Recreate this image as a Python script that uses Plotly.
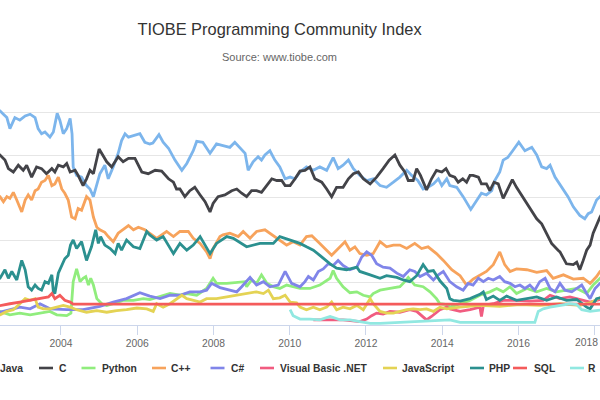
import plotly.graph_objects as go

# ---- data: (decimal year, share %) ----
series_names = ["Java", "C", "Python", "C++", "C#", "Visual Basic .NET",
                "JavaScript", "PHP", "SQL", "R"]
series_colors = ["#7cb5ec", "#434348", "#90ed7d", "#f7a35c", "#8085e9",
                 "#f15c80", "#e4d354", "#2b908f", "#f45b5b", "#91e8e1"]

java = [(2002.30, 25.4), (2002.40, 25.2), (2002.49, 24.8), (2002.58, 24.4), (2002.66, 23.1), (2002.79, 24.4),
        (2002.92, 24.1), (2003.06, 24.6), (2003.19, 24.8), (2003.32, 24.4), (2003.40, 23.1), (2003.49, 22.5),
        (2003.58, 22.7), (2003.71, 22.1), (2003.80, 22.7), (2003.90, 24.9), (2003.97, 24.1), (2004.06, 22.5),
        (2004.15, 23.1), (2004.24, 24.3), (2004.29, 22.5), (2004.32, 18.6), (2004.41, 17.6), (2004.54, 17.4),
        (2004.67, 16.4), (2004.76, 16.0), (2004.85, 15.1), (2004.94, 16.4), (2005.02, 17.8), (2005.15, 18.8),
        (2005.24, 17.2), (2005.37, 18.6), (2005.50, 20.2), (2005.59, 21.7), (2005.68, 22.5), (2005.77, 22.1),
        (2005.90, 22.3), (2006.07, 22.5), (2006.20, 21.5), (2006.33, 21.3), (2006.41, 21.4), (2006.57, 22.4),
        (2006.68, 21.5), (2006.82, 20.8), (2006.99, 19.4), (2007.17, 18.2), (2007.30, 19.0), (2007.47, 20.5),
        (2007.56, 21.6), (2007.72, 21.5), (2007.91, 20.2), (2008.08, 21.3), (2008.25, 21.1), (2008.43, 20.9),
        (2008.56, 21.5), (2008.69, 20.9), (2008.83, 20.2), (2008.91, 18.2), (2009.04, 19.2), (2009.17, 19.8),
        (2009.26, 19.4), (2009.35, 20.0), (2009.48, 20.5), (2009.61, 19.4), (2009.74, 18.6), (2009.88, 17.2),
        (2010.01, 17.4), (2010.14, 17.2), (2010.27, 18.0), (2010.44, 18.6), (2010.62, 18.2), (2010.79, 18.6),
        (2010.97, 18.2), (2011.14, 19.7), (2011.27, 18.4), (2011.40, 18.8), (2011.54, 19.4), (2011.67, 18.4),
        (2011.84, 17.6), (2012.02, 17.0), (2012.19, 17.2), (2012.37, 16.4), (2012.54, 16.2), (2012.72, 16.8),
        (2012.89, 17.4), (2013.07, 18.2), (2013.20, 17.6), (2013.36, 17.0), (2013.50, 16.0), (2013.63, 16.2),
        (2013.77, 16.6), (2013.90, 17.2), (2013.99, 16.4), (2014.12, 17.2), (2014.20, 16.4), (2014.38, 16.2),
        (2014.55, 15.1), (2014.75, 13.6), (2014.90, 14.7), (2015.03, 15.5), (2015.16, 15.3), (2015.30, 15.8),
        (2015.38, 17.0), (2015.51, 18.0), (2015.60, 19.4), (2015.72, 19.7), (2015.85, 20.5), (2016.01, 21.5),
        (2016.17, 20.5), (2016.35, 20.9), (2016.48, 20.0), (2016.61, 18.6), (2016.74, 18.4), (2016.83, 18.8),
        (2016.96, 17.4), (2017.13, 16.2), (2017.30, 15.1), (2017.44, 13.9), (2017.61, 12.9), (2017.74, 12.5),
        (2017.83, 13.1), (2017.92, 13.3), (2018.05, 14.7), (2018.14, 15.1), (2018.25, 15.6)]

c_lang = [(2002.30, 20.3), (2002.40, 20.0), (2002.53, 19.4), (2002.62, 18.4), (2002.75, 18.0), (2002.88, 18.8),
          (2003.01, 18.2), (2003.10, 18.8), (2003.23, 17.4), (2003.36, 18.6), (2003.49, 18.4), (2003.62, 17.8),
          (2003.76, 18.4), (2003.84, 18.0), (2003.93, 18.8), (2004.06, 18.6), (2004.15, 19.0), (2004.24, 18.0),
          (2004.37, 18.2), (2004.45, 17.6), (2004.58, 16.4), (2004.67, 17.2), (2004.76, 18.2), (2004.85, 17.8),
          (2005.00, 20.7), (2005.11, 19.8), (2005.20, 19.2), (2005.33, 18.6), (2005.50, 19.8), (2005.63, 19.2),
          (2005.77, 19.6), (2005.94, 19.6), (2006.12, 18.0), (2006.29, 17.8), (2006.47, 18.2), (2006.64, 18.1),
          (2006.82, 17.2), (2006.95, 16.8), (2007.03, 16.0), (2007.12, 16.0), (2007.25, 15.1), (2007.38, 15.8),
          (2007.51, 16.2), (2007.65, 15.3), (2007.78, 14.5), (2007.91, 13.3), (2007.99, 14.3), (2008.12, 15.1),
          (2008.30, 15.3), (2008.48, 15.8), (2008.61, 16.0), (2008.74, 15.5), (2008.87, 15.1), (2009.00, 15.8),
          (2009.13, 15.8), (2009.26, 15.6), (2009.40, 16.4), (2009.53, 17.2), (2009.66, 17.0), (2009.79, 17.0),
          (2009.88, 16.4), (2010.01, 16.4), (2010.14, 17.2), (2010.27, 18.1), (2010.40, 18.2), (2010.53, 18.6),
          (2010.66, 17.2), (2010.84, 16.8), (2010.97, 16.0), (2011.10, 15.1), (2011.23, 16.2), (2011.40, 16.2),
          (2011.54, 17.2), (2011.67, 17.8), (2011.80, 18.0), (2011.93, 17.2), (2012.11, 16.6), (2012.28, 17.4),
          (2012.45, 18.4), (2012.61, 19.4), (2012.76, 20.0), (2012.89, 18.8), (2013.02, 18.0), (2013.11, 17.0),
          (2013.24, 17.0), (2013.33, 18.4), (2013.43, 17.6), (2013.59, 15.9), (2013.72, 17.2), (2013.85, 18.2),
          (2013.99, 18.0), (2014.10, 18.4), (2014.20, 17.6), (2014.33, 17.4), (2014.42, 16.8), (2014.54, 17.2),
          (2014.64, 16.8), (2014.73, 17.6), (2014.81, 17.6), (2014.95, 17.4), (2015.03, 16.6), (2015.16, 16.6),
          (2015.25, 15.8), (2015.36, 16.8), (2015.47, 16.6), (2015.60, 14.9), (2015.70, 15.8), (2015.84, 17.1),
          (2015.95, 16.2), (2016.08, 15.3), (2016.22, 14.3), (2016.35, 13.5), (2016.48, 12.5), (2016.61, 11.9),
          (2016.74, 10.8), (2016.87, 9.6), (2017.04, 8.8), (2017.09, 8.6), (2017.26, 7.2), (2017.44, 7.1),
          (2017.53, 7.4), (2017.61, 6.5), (2017.70, 7.6), (2017.79, 8.8), (2017.88, 9.4), (2017.96, 10.8),
          (2018.14, 12.7), (2018.25, 13.6)]

python = [(2002.30, 1.5), (2002.40, 1.6), (2002.66, 1.2), (2002.92, 1.4), (2003.19, 1.2), (2003.45, 1.4),
          (2003.71, 1.6), (2003.89, 1.2), (2004.15, 1.1), (2004.26, 1.4), (2004.32, 5.1), (2004.41, 6.6),
          (2004.50, 5.1), (2004.58, 5.5), (2004.65, 5.7), (2004.72, 4.7), (2004.78, 5.5), (2004.85, 4.7),
          (2004.94, 3.1), (2005.07, 2.5), (2005.20, 2.3), (2005.37, 2.5), (2005.63, 2.9), (2005.90, 2.9),
          (2006.16, 3.1), (2006.33, 3.0), (2006.68, 3.5), (2006.86, 3.7), (2007.12, 3.5), (2007.30, 3.7),
          (2007.56, 3.5), (2007.82, 4.3), (2007.99, 5.5), (2008.08, 4.9), (2008.35, 4.9), (2008.61, 5.0),
          (2008.83, 5.1), (2008.87, 4.5), (2009.00, 5.3), (2009.13, 4.9), (2009.26, 5.9), (2009.40, 4.9),
          (2009.57, 4.5), (2009.74, 4.3), (2009.92, 4.7), (2010.09, 4.5), (2010.27, 4.3), (2010.53, 4.3),
          (2010.79, 4.7), (2011.06, 5.5), (2011.14, 6.4), (2011.23, 5.5), (2011.40, 4.5), (2011.58, 3.8),
          (2011.76, 3.9), (2011.93, 3.5), (2012.11, 3.3), (2012.19, 3.7), (2012.37, 4.1), (2012.63, 4.3),
          (2012.89, 4.5), (2013.02, 5.1), (2013.11, 5.6), (2013.28, 4.7), (2013.50, 4.5), (2013.68, 3.9),
          (2013.85, 3.1), (2013.94, 2.5), (2014.12, 2.4), (2014.20, 2.1), (2014.47, 2.5), (2014.73, 2.9),
          (2014.99, 3.5), (2015.25, 3.9), (2015.43, 4.3), (2015.60, 3.9), (2015.78, 4.5), (2015.95, 3.7),
          (2016.22, 4.3), (2016.48, 3.9), (2016.74, 4.3), (2017.00, 3.9), (2017.26, 4.1), (2017.53, 4.3),
          (2017.79, 3.7), (2017.96, 4.7), (2018.14, 5.5), (2018.25, 5.8)]

cpp = [(2002.30, 15.3), (2002.40, 15.1), (2002.49, 14.5), (2002.58, 15.1), (2002.66, 14.9), (2002.75, 15.6),
       (2002.84, 14.7), (2002.97, 13.3), (2003.06, 14.7), (2003.14, 15.3), (2003.23, 14.7), (2003.32, 15.8),
       (2003.40, 16.0), (2003.49, 16.8), (2003.58, 17.0), (2003.67, 17.6), (2003.76, 16.4), (2003.84, 16.6),
       (2003.93, 17.4), (2004.02, 16.0), (2004.10, 15.5), (2004.19, 14.7), (2004.28, 12.7), (2004.37, 12.5),
       (2004.45, 13.7), (2004.54, 13.5), (2004.67, 15.1), (2004.76, 14.7), (2004.85, 12.7), (2004.94, 11.5),
       (2005.02, 11.2), (2005.15, 10.9), (2005.24, 10.4), (2005.37, 9.8), (2005.50, 10.8), (2005.63, 11.2),
       (2005.77, 11.7), (2005.90, 11.2), (2006.03, 11.5), (2006.20, 11.2), (2006.33, 10.8), (2006.51, 10.2),
       (2006.77, 11.0), (2006.95, 10.4), (2007.12, 11.0), (2007.34, 11.0), (2007.47, 10.2), (2007.65, 9.6),
       (2007.82, 8.6), (2007.91, 7.8), (2007.99, 9.0), (2008.17, 10.4), (2008.25, 10.6), (2008.43, 10.8),
       (2008.65, 10.4), (2008.78, 11.0), (2008.96, 10.2), (2009.13, 11.0), (2009.35, 11.2), (2009.53, 10.6),
       (2009.74, 10.0), (2009.92, 9.4), (2010.09, 9.8), (2010.27, 9.4), (2010.44, 10.4), (2010.58, 10.5),
       (2010.79, 9.6), (2011.10, 8.2), (2011.23, 8.8), (2011.45, 9.8), (2011.58, 8.8), (2011.71, 9.2),
       (2011.84, 8.4), (2012.02, 8.2), (2012.19, 8.4), (2012.37, 9.8), (2012.54, 9.2), (2012.72, 9.4),
       (2012.89, 9.4), (2013.07, 9.0), (2013.28, 9.6), (2013.46, 9.0), (2013.63, 9.2), (2013.85, 8.4),
       (2014.03, 7.6), (2014.25, 6.5), (2014.47, 5.8), (2014.64, 4.7), (2014.81, 5.4), (2014.99, 5.9),
       (2015.16, 6.3), (2015.34, 7.1), (2015.51, 8.6), (2015.64, 7.1), (2015.78, 6.3), (2015.95, 6.6),
       (2016.22, 6.5), (2016.48, 6.2), (2016.74, 6.4), (2016.91, 5.5), (2017.18, 5.9), (2017.44, 5.4),
       (2017.70, 5.5), (2017.88, 4.9), (2018.05, 5.7), (2018.14, 6.3), (2018.25, 6.6)]

csharp = [(2002.30, 1.5), (2002.40, 1.5), (2002.92, 2.1), (2003.19, 1.9), (2003.45, 2.5), (2003.71, 1.9),
          (2004.15, 1.8), (2004.58, 1.8), (2005.02, 2.2), (2005.37, 2.7), (2005.72, 3.1), (2006.07, 3.8),
          (2006.33, 3.4), (2006.60, 3.1), (2006.86, 3.5), (2007.12, 3.5), (2007.38, 3.9), (2007.65, 3.9),
          (2007.82, 4.1), (2007.95, 4.9), (2008.17, 4.4), (2008.43, 4.1), (2008.61, 3.9), (2008.74, 4.5),
          (2008.96, 5.6), (2009.13, 4.7), (2009.31, 5.1), (2009.48, 4.5), (2009.70, 4.7), (2009.88, 6.3),
          (2010.05, 4.9), (2010.27, 4.5), (2010.40, 5.1), (2010.49, 5.7), (2010.62, 5.3), (2010.75, 6.3),
          (2010.88, 6.6), (2011.01, 7.2), (2011.14, 7.0), (2011.27, 7.6), (2011.40, 7.0), (2011.58, 6.5),
          (2011.76, 6.8), (2011.89, 8.0), (2012.02, 8.6), (2012.15, 8.2), (2012.28, 7.2), (2012.45, 6.8),
          (2012.63, 6.7), (2012.81, 6.1), (2012.98, 5.7), (2013.15, 6.5), (2013.28, 6.3), (2013.42, 5.7),
          (2013.59, 6.1), (2013.77, 5.3), (2013.90, 5.9), (2014.03, 6.3), (2014.20, 5.1), (2014.38, 4.5),
          (2014.55, 4.1), (2014.68, 4.9), (2014.81, 4.7), (2014.95, 5.5), (2015.08, 5.1), (2015.21, 5.5),
          (2015.34, 5.3), (2015.51, 5.7), (2015.64, 5.1), (2015.78, 4.9), (2015.91, 4.5), (2016.04, 4.7),
          (2016.17, 4.3), (2016.30, 4.7), (2016.43, 4.1), (2016.56, 5.1), (2016.70, 5.5), (2016.83, 4.3),
          (2016.96, 3.9), (2017.09, 4.9), (2017.22, 4.1), (2017.40, 3.9), (2017.53, 4.3), (2017.66, 4.7),
          (2017.79, 3.7), (2017.88, 3.1), (2018.01, 4.3), (2018.14, 4.9), (2018.25, 5.1)]

vbnet = [(2010.62, 0.6), (2010.97, 0.6), (2011.40, 0.6), (2011.84, 0.4), (2012.02, 0.7), (2012.15, 1.1),
         (2012.28, 1.4), (2012.45, 1.3), (2012.63, 1.6), (2012.89, 1.5), (2013.15, 1.8), (2013.33, 1.6),
         (2013.50, 1.0), (2013.59, 0.6), (2013.72, 1.0), (2013.94, 1.8), (2014.12, 2.1), (2014.20, 1.9),
         (2014.47, 1.6), (2014.73, 1.8), (2014.99, 2.1), (2015.03, 1.0), (2015.08, 2.3), (2015.34, 2.5),
         (2015.60, 2.9), (2015.95, 2.9), (2016.30, 2.8), (2016.65, 2.9), (2016.83, 3.5), (2017.09, 3.1),
         (2017.35, 3.3), (2017.61, 3.0), (2017.88, 2.7), (2018.14, 3.0), (2018.25, 3.1)]

javascript = [(2002.30, 1.1), (2002.40, 1.2), (2002.58, 1.6), (2002.75, 1.8), (2002.92, 2.5), (2003.06, 3.1),
              (2003.19, 2.9), (2003.32, 3.1), (2003.40, 2.1), (2003.54, 1.9), (2003.71, 1.9), (2003.89, 2.1),
              (2004.06, 2.3), (2004.24, 2.1), (2004.41, 1.8), (2004.67, 1.5), (2004.94, 1.7), (2005.20, 1.5),
              (2005.46, 1.7), (2005.72, 1.8), (2005.99, 2.0), (2006.25, 1.9), (2006.42, 1.6), (2006.51, 2.5),
              (2006.68, 2.1), (2006.86, 2.5), (2007.03, 3.1), (2007.17, 3.5), (2007.30, 3.1), (2007.47, 2.9),
              (2007.65, 2.7), (2007.82, 3.1), (2008.08, 3.1), (2008.35, 3.3), (2008.61, 3.5), (2008.87, 3.7),
              (2009.13, 3.9), (2009.31, 3.7), (2009.44, 4.1), (2009.57, 3.1), (2009.74, 3.2), (2009.88, 3.5),
              (2010.01, 2.7), (2010.18, 2.6), (2010.27, 2.1), (2010.44, 1.8), (2010.62, 2.1), (2010.79, 1.8),
              (2010.97, 2.1), (2011.10, 2.7), (2011.23, 1.8), (2011.40, 2.1), (2011.58, 1.9), (2011.76, 2.3),
              (2011.93, 1.8), (2012.11, 3.1), (2012.19, 2.5), (2012.37, 1.6), (2012.54, 1.4), (2012.72, 1.4),
              (2012.89, 1.6), (2013.07, 1.8), (2013.24, 1.9), (2013.42, 1.8), (2013.59, 1.9), (2013.77, 1.6),
              (2013.94, 2.1), (2014.12, 1.9), (2014.47, 2.1), (2014.99, 2.3), (2015.51, 2.2), (2016.04, 2.4),
              (2016.56, 2.3), (2017.09, 2.5), (2017.61, 2.3), (2017.88, 2.6), (2018.14, 3.2), (2018.25, 3.4)]

php = [(2002.30, 5.3), (2002.40, 5.5), (2002.53, 6.5), (2002.62, 5.5), (2002.71, 6.3), (2002.84, 5.3),
       (2002.97, 7.6), (2003.06, 6.5), (2003.14, 4.5), (2003.23, 4.1), (2003.32, 4.7), (2003.40, 4.3),
       (2003.49, 4.1), (2003.58, 5.1), (2003.67, 4.9), (2003.76, 5.9), (2003.80, 3.9), (2003.84, 3.7),
       (2003.93, 6.1), (2004.02, 7.0), (2004.10, 7.8), (2004.19, 8.2), (2004.25, 9.4), (2004.32, 10.0),
       (2004.41, 9.0), (2004.54, 9.8), (2004.67, 7.6), (2004.80, 9.2), (2004.91, 11.2), (2004.98, 9.6),
       (2005.04, 10.4), (2005.15, 9.4), (2005.29, 9.0), (2005.42, 8.4), (2005.50, 9.6), (2005.59, 8.8),
       (2005.72, 10.0), (2005.90, 9.2), (2006.07, 9.0), (2006.25, 11.0), (2006.33, 10.6), (2006.51, 10.0),
       (2006.68, 10.4), (2006.95, 8.4), (2007.12, 9.6), (2007.30, 8.8), (2007.47, 9.4), (2007.65, 10.4),
       (2007.91, 8.4), (2008.08, 9.6), (2008.35, 10.4), (2008.52, 10.2), (2008.87, 9.2), (2009.22, 9.6),
       (2009.57, 9.6), (2009.74, 10.4), (2010.01, 10.0), (2010.27, 9.6), (2010.44, 9.2), (2010.62, 8.8),
       (2010.79, 8.2), (2011.06, 7.2), (2011.23, 6.7), (2011.49, 6.5), (2011.76, 6.8), (2011.84, 6.3),
       (2012.11, 5.9), (2012.37, 5.5), (2012.54, 5.8), (2012.81, 5.6), (2012.98, 5.3), (2013.15, 5.1),
       (2013.33, 5.8), (2013.50, 7.1), (2013.63, 6.3), (2013.77, 6.4), (2013.94, 5.2), (2014.12, 4.3),
       (2014.20, 3.1), (2014.29, 2.9), (2014.47, 2.8), (2014.73, 3.1), (2014.99, 3.6), (2015.08, 3.9),
       (2015.16, 3.0), (2015.34, 3.4), (2015.51, 2.9), (2015.69, 3.4), (2015.95, 2.9), (2016.22, 3.1),
       (2016.48, 3.3), (2016.74, 2.9), (2017.00, 3.3), (2017.26, 2.9), (2017.53, 3.0), (2017.79, 2.1),
       (2017.88, 1.9), (2018.05, 3.1), (2018.14, 3.2), (2018.25, 3.3)]

sql = [(2002.30, 2.2), (2002.40, 2.3), (2002.66, 2.5), (2002.92, 2.7), (2003.19, 2.9), (2003.45, 3.1),
       (2003.67, 3.3), (2003.76, 3.7), (2003.84, 3.1), (2003.97, 3.5), (2004.10, 2.9), (2004.24, 2.7),
       (2004.32, 2.45), (2018.25, 2.45)]

r_lang = [(2010.01, 1.8), (2010.09, 1.1), (2010.27, 0.7), (2010.53, 0.7), (2010.79, 0.6), (2011.06, 1.0),
          (2011.32, 0.6), (2011.58, 0.6), (2011.84, 0.4), (2012.11, 0.2), (2012.37, 0.2), (2012.89, 0.3),
          (2013.42, 0.4), (2013.94, 0.5), (2014.20, 0.6), (2014.47, 0.3), (2014.99, 0.3), (2015.51, 0.3),
          (2016.04, 0.3), (2016.43, 0.3), (2016.52, 1.6), (2016.65, 1.9), (2016.83, 2.1), (2017.09, 2.3),
          (2017.35, 2.5), (2017.53, 2.4), (2017.66, 1.8), (2017.88, 1.6), (2018.14, 1.7), (2018.25, 1.8)]

series_data = [java, c_lang, python, cpp, csharp, vbnet, javascript, php, sql, r_lang]

tick_years = [2004, 2006, 2008, 2010, 2012, 2014, 2016, 2018]
tick_labels = ["2004", "2006", "2008", "2010", "2012", "2014", "2016", "2018"]

# legend layout (pixel positions in the 600px-wide page)
legend_symbol_x = [-24, 39, 81.5, 152, 210.5, 260, 383, 470, 513, 570]
legend_text_x = [-2, 57, 99.5, 169.5, 228.5, 278, 400, 487, 532, 586]

W, H = 600, 400
PLOT_TOP, PLOT_BOTTOM = 70, 325
FONT = "Liberation Sans, Arial, sans-serif"

fig = go.Figure()
for name, color, pts in zip(series_names, series_colors, series_data):
    fig.add_trace(go.Scatter(
        x=[p[0] for p in pts], y=[p[1] for p in pts], name=name, mode="lines",
        line=dict(color=color, width=2.8), showlegend=False, hoverinfo="skip"))


def py(px):
    return (PLOT_BOTTOM - px) / (PLOT_BOTTOM - PLOT_TOP)


shapes = []
annotations = []
LEG_Y = 368
for i, name in enumerate(series_names):
    sx = legend_symbol_x[i]
    shapes.append(dict(type="line", xref="paper", yref="paper",
                       x0=sx / W, x1=(sx + 14) / W, y0=py(LEG_Y), y1=py(LEG_Y),
                       line=dict(color=series_colors[i], width=2.6)))
    annotations.append(dict(text="<b>" + name + "</b>", xref="paper", yref="paper",
                            x=legend_text_x[i] / W, y=py(LEG_Y), xanchor="left", yanchor="middle",
                            showarrow=False,
                            font=dict(family=FONT, size=10.3, color="#333333")))

annotations.append(dict(text="Source: www.tiobe.com", xref="paper", yref="paper",
                        x=279.5 / W, y=py(57), xanchor="center", yanchor="middle", showarrow=False,
                        font=dict(family=FONT, size=11, color="#666666")))

# last tick label sits at the right edge of the page; keep it fully visible there
annotations.append(dict(text=tick_labels[-1], xref="paper", yref="paper",
                        x=1.0, y=py(342), xanchor="right", yanchor="middle",
                        showarrow=False, font=dict(family=FONT, size=10.3, color="#666666")))

fig.update_layout(
    width=W, height=H,
    margin=dict(l=0, r=0, t=PLOT_TOP, b=H - PLOT_BOTTOM),
    paper_bgcolor="white", plot_bgcolor="white",
    title=dict(text="TIOBE Programming Community Index", x=279.5 / W, xanchor="center",
               y=1 - 29.5 / H, yanchor="middle",
               font=dict(family=FONT, size=16.4, color="#333333")),
    xaxis=dict(range=[2002.40, 2018.14], tickvals=tick_years, ticktext=tick_labels[:-1] + [""],
               showgrid=False, zeroline=False, showline=True, linecolor="#ccd6eb", linewidth=1,
               ticks="outside", ticklen=9, tickcolor="#ccd6eb", tickwidth=1,
               tickfont=dict(family=FONT, size=10.3, color="#666666")),
    yaxis=dict(range=[0, 30], dtick=5, showticklabels=False, showgrid=True, gridcolor="#e6e6e6",
               gridwidth=1, zeroline=False, showline=False),
    shapes=shapes, annotations=annotations, showlegend=False,
)

fig.write_html("out.html")
